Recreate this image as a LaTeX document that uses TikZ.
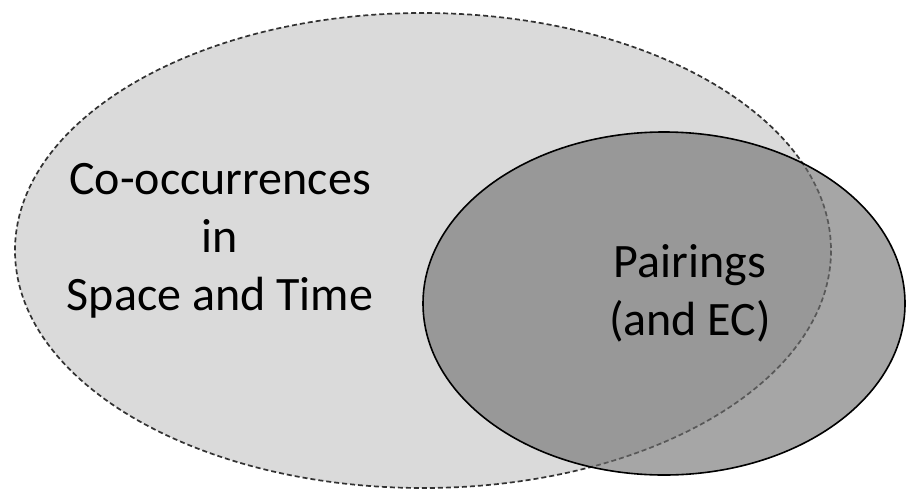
\documentclass[tikz,border=0pt]{standalone}
\usepackage{fontspec}
\setmainfont{Carlito}
\begin{document}
\begin{tikzpicture}[x=1pt,y=-1pt,
  outerset/.style={fill=outerfill, draw=dashgray, line width=1.7pt, dash pattern=on 5pt off 3pt},
  innerset/.style={fill=innerfill, fill opacity=0.62, draw=black, draw opacity=1, line width=1.6pt},
  label/.style={align=center, inner sep=0pt, font=\fontsize{48}{58}\selectfont}]
\definecolor{outerfill}{RGB}{218,218,218}
\definecolor{dashgray}{RGB}{50,50,50}
\definecolor{innerfill}{RGB}{112,112,112}
\useasboundingbox (0,0) rectangle (907,490);
% outer set: co-occurrences
\path[outerset] (423,250.5) ellipse [x radius=408, y radius=237.5];
% inner set: pairings, translucent so the dashed outline shows through
\path[innerset] (664,303.5) ellipse [x radius=241, y radius=171.5];
\node[label] (cooc) at (220,241) {Co-occurrences\\in\\Space and Time};
\node[label] (pair) at (690,293) {Pairings\\(and EC)};
\end{tikzpicture}
\end{document}
